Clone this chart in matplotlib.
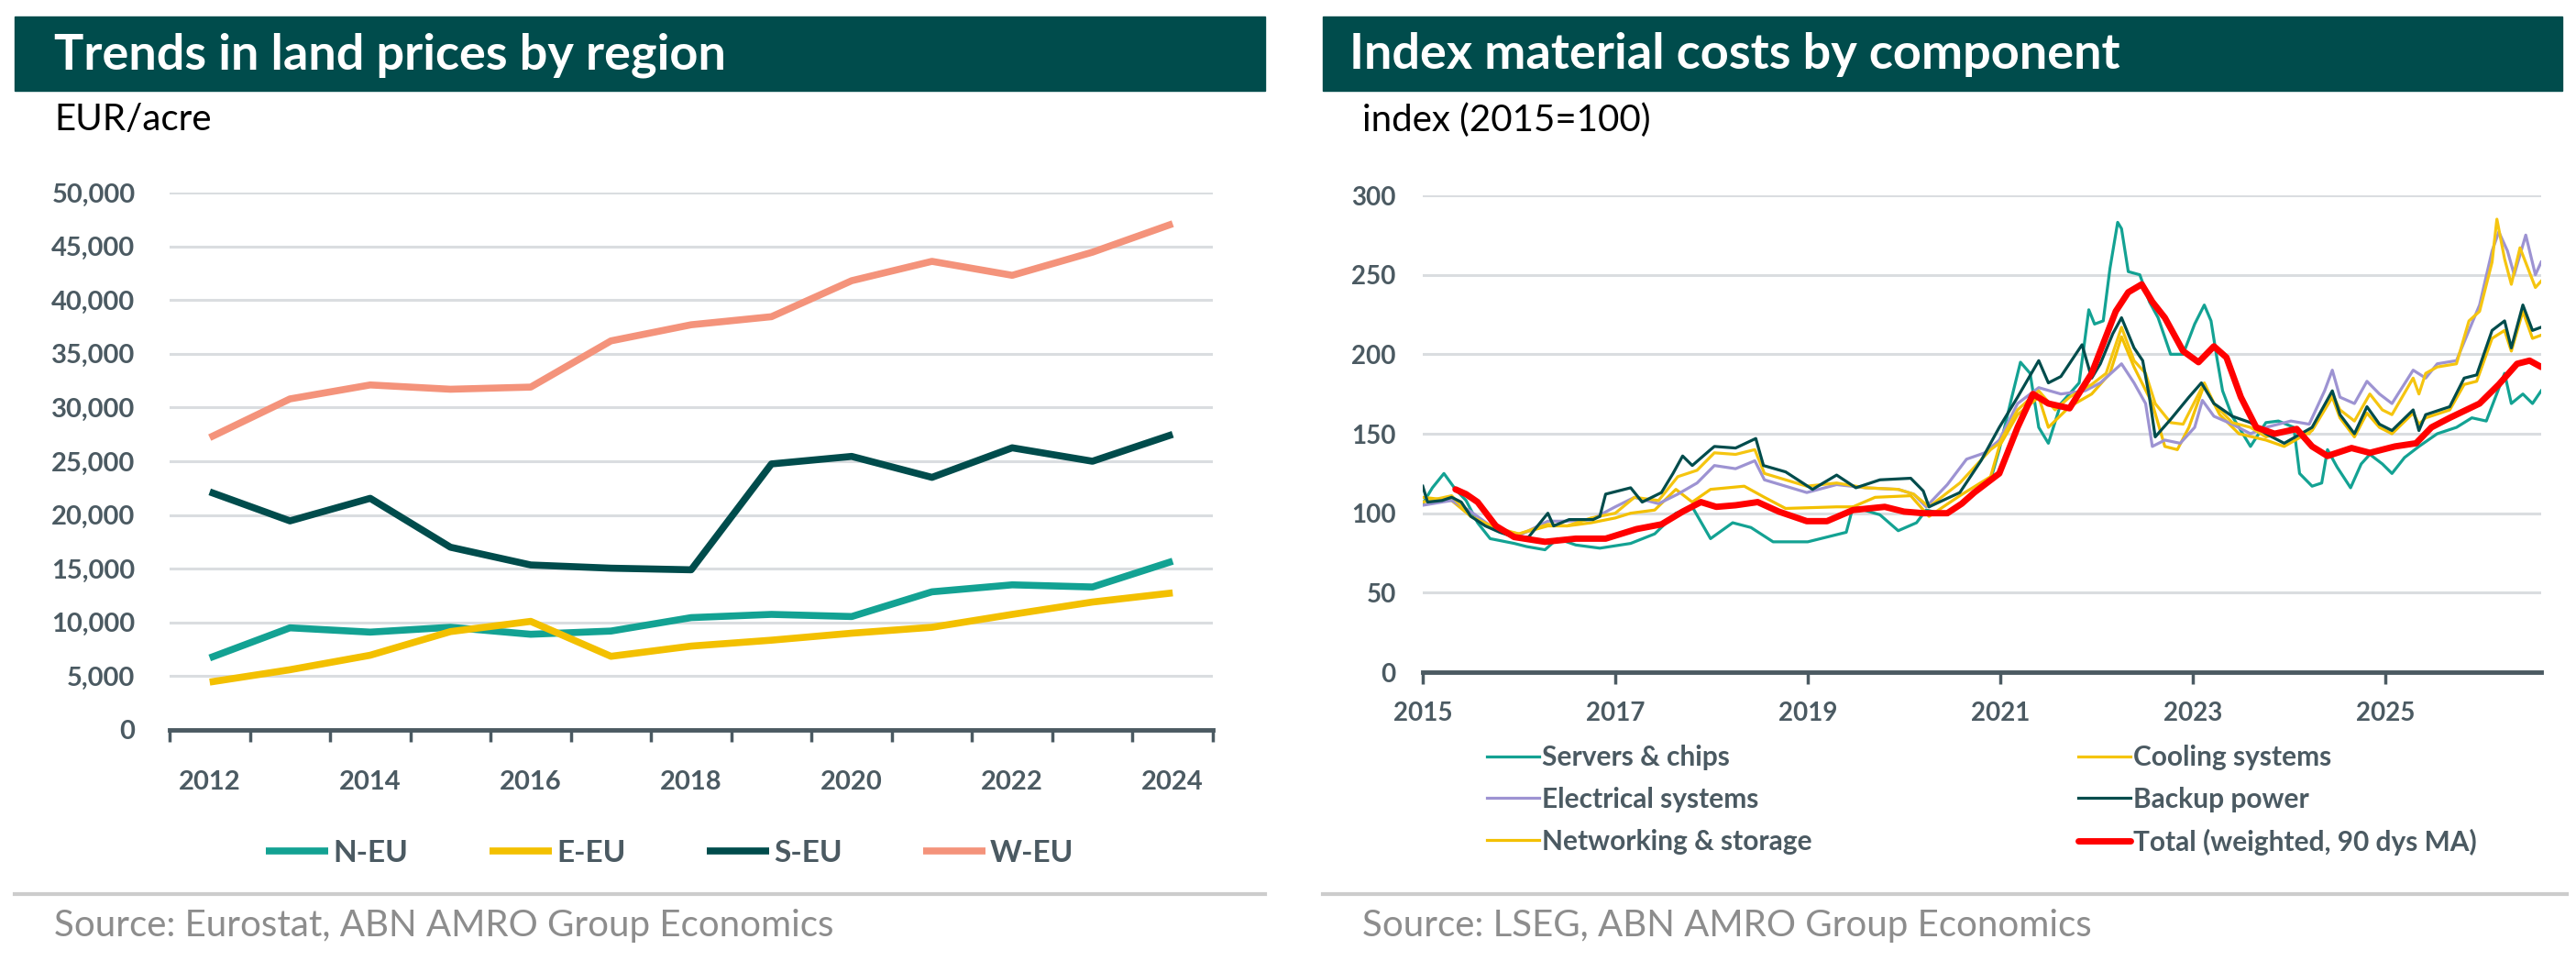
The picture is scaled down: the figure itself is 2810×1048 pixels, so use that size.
import matplotlib
matplotlib.use("Agg")
import matplotlib.pyplot as plt
from matplotlib.patches import Rectangle
from matplotlib.lines import Line2D
from matplotlib.ticker import FuncFormatter, MultipleLocator

plt.rcParams['font.family'] = ['Lato', 'DejaVu Sans']

# ---------------- left chart: land prices (EUR/acre) ----------------
years = [2012, 2013, 2014, 2015, 2016, 2017, 2018, 2019, 2020, 2021, 2022, 2023, 2024]
n_eu = [6700, 9500, 9100, 9550, 8900, 9200, 10450, 10750, 10550, 12850, 13500, 13300, 15700]
e_eu = [4450, 5600, 6950, 9150, 10100, 6850, 7800, 8350, 9000, 9550, 10750, 11900, 12750]
s_eu = [22150, 19450, 21550, 17000, 15350, 15050, 14900, 24750, 25450, 23500, 26250, 25000, 27500]
w_eu = [27200, 30800, 32100, 31700, 31900, 36200, 37700, 38450, 41800, 43600, 42300, 44450, 47100]

# ---------------- right chart: material cost index (2015=100) ----------------
servers_x = [2015.0, 2015.1, 2015.22, 2015.34, 2015.45, 2015.57, 2015.7, 2015.95, 2016.08, 2016.27,
             2016.4, 2016.59, 2016.84, 2017.16, 2017.41, 2017.63, 2017.8, 2017.99, 2018.22, 2018.41,
             2018.64, 2019.0, 2019.4, 2019.47, 2019.75, 2019.94, 2020.13, 2020.23, 2020.45, 2020.73,
             2020.9, 2020.99, 2021.12, 2021.21, 2021.31, 2021.4, 2021.5, 2021.63, 2021.82, 2021.92,
             2021.98, 2022.07, 2022.14, 2022.22, 2022.26, 2022.33, 2022.45, 2022.55, 2022.64, 2022.77,
             2022.9, 2023.02, 2023.12, 2023.19, 2023.25, 2023.31, 2023.41, 2023.6, 2023.76, 2023.89,
             2024.05, 2024.11, 2024.24, 2024.34, 2024.4, 2024.5, 2024.64, 2024.75, 2024.84, 2024.97,
             2025.07, 2025.2, 2025.35, 2025.54, 2025.74, 2025.9, 2026.05, 2026.24, 2026.31, 2026.43,
             2026.53, 2026.62]
servers = [106, 116, 125, 115, 108, 94, 84, 81, 79, 77,
           84, 80, 78, 81, 87, 100, 104, 84, 94, 91,
           82, 82, 88, 104, 99, 89, 94, 102, 99, 113,
           121, 140, 173, 195, 188, 154, 144, 169, 182, 228,
           219, 221, 254, 283, 279, 252, 250, 233, 223, 200,
           200, 219, 231, 221, 198, 177, 161, 142, 157, 158,
           154, 125, 117, 119, 140, 129, 116, 131, 137, 131,
           125, 135, 142, 150, 154, 160, 158, 188, 169, 175,
           169, 177]

electrical_x = [2015.0, 2015.3, 2015.5, 2015.75, 2016.0, 2016.3, 2016.5, 2016.75, 2017.0, 2017.2,
                2017.45, 2017.65, 2017.85, 2018.03, 2018.25, 2018.45, 2018.55, 2018.99, 2019.3, 2019.6,
                2019.94, 2020.1, 2020.23, 2020.45, 2020.65, 2020.84, 2020.99, 2021.18, 2021.4, 2021.63,
                2021.88, 2022.04, 2022.26, 2022.39, 2022.51, 2022.58, 2022.71, 2022.87, 2023.02, 2023.1,
                2023.22, 2023.41, 2023.6, 2023.76, 2024.02, 2024.21, 2024.37, 2024.45, 2024.53, 2024.68,
                2024.81, 2024.94, 2025.07, 2025.29, 2025.42, 2025.54, 2025.74, 2025.87, 2025.98, 2026.11,
                2026.18, 2026.27, 2026.34, 2026.46, 2026.56, 2026.62]
electrical = [105, 108, 101, 90, 86, 95, 95, 96, 104, 110,
              106, 112, 119, 130, 128, 133, 121, 113, 118, 116,
              115, 112, 104, 118, 134, 138, 146, 169, 179, 175,
              177, 182, 194, 182, 169, 142, 146, 144, 154, 171,
              161, 156, 150, 154, 158, 156, 177, 190, 173, 169,
              183, 175, 169, 190, 185, 194, 196, 215, 231, 265,
              277, 265, 250, 275, 250, 258]

cooling_x = [2015.0, 2015.3, 2015.5, 2015.75, 2016.0, 2016.3, 2016.5, 2016.75, 2017.0, 2017.2,
             2017.45, 2017.65, 2017.85, 2018.03, 2018.25, 2018.45, 2018.55, 2018.99, 2019.3, 2019.6,
             2019.94, 2020.1, 2020.26, 2020.58, 2020.9, 2020.99, 2021.18, 2021.4, 2021.57, 2021.72,
             2021.95, 2022.1, 2022.26, 2022.39, 2022.51, 2022.61, 2022.77, 2022.9, 2023.12, 2023.22,
             2023.41, 2023.6, 2023.76, 2024.02, 2024.21, 2024.45, 2024.53, 2024.68, 2024.84, 2024.97,
             2025.07, 2025.29, 2025.35, 2025.42, 2025.54, 2025.74, 2025.87, 2025.98, 2026.11, 2026.16,
             2026.24, 2026.31, 2026.4, 2026.56, 2026.62]
cooling = [107, 111, 98, 91, 87, 93, 92, 97, 100, 110,
           108, 123, 127, 138, 137, 140, 125, 117, 119, 116,
           115, 112, 104, 119, 140, 144, 165, 177, 165, 173,
           181, 188, 217, 196, 188, 169, 157, 156, 182, 169,
           157, 154, 148, 152, 150, 175, 165, 158, 175, 165,
           162, 185, 175, 188, 192, 194, 221, 227, 258, 285,
           260, 244, 267, 242, 246]

backup_x = [2015.0, 2015.05, 2015.2, 2015.3, 2015.4, 2015.5, 2015.65, 2015.8, 2016.0, 2016.1,
            2016.3, 2016.36, 2016.52, 2016.77, 2016.84, 2016.9, 2017.16, 2017.28, 2017.48, 2017.6,
            2017.7, 2017.8, 2017.99, 2018.03, 2018.25, 2018.46, 2018.54, 2018.77, 2019.05, 2019.3,
            2019.5, 2019.75, 2020.07, 2020.2, 2020.26, 2020.58, 2020.8, 2020.99, 2021.18, 2021.4,
            2021.5, 2021.63, 2021.85, 2021.95, 2022.04, 2022.17, 2022.26, 2022.39, 2022.48, 2022.55,
            2022.61, 2022.77, 2022.96, 2023.09, 2023.22, 2023.41, 2023.6, 2023.76, 2023.95, 2024.24,
            2024.45, 2024.53, 2024.68, 2024.81, 2024.94, 2025.07, 2025.29, 2025.35, 2025.42, 2025.67,
            2025.82, 2025.95, 2026.11, 2026.24, 2026.31, 2026.43, 2026.53, 2026.62]
backup = [117, 107, 108, 110, 107, 98, 92, 88, 84, 85,
          100, 92, 96, 96, 98, 112, 116, 107, 113, 125,
          136, 130, 140, 142, 141, 147, 130, 126, 115, 124,
          116, 121, 122, 114, 104, 113, 133, 154, 173, 196,
          182, 186, 206, 185, 194, 213, 223, 204, 196, 173,
          148, 159, 173, 182, 169, 161, 157, 150, 144, 154,
          177, 162, 150, 167, 156, 152, 165, 152, 162, 167,
          185, 187, 215, 221, 204, 231, 215, 217]

networking_x = [2015.0, 2015.3, 2015.5, 2015.75, 2016.0, 2016.3, 2016.5, 2016.75, 2017.0, 2017.16,
                2017.41, 2017.63, 2017.8, 2017.99, 2018.34, 2018.55, 2018.77, 2019.3, 2019.47, 2019.7,
                2020.07, 2020.26, 2020.58, 2020.9, 2020.99, 2021.18, 2021.4, 2021.5, 2021.72, 2021.95,
                2022.14, 2022.26, 2022.39, 2022.58, 2022.71, 2022.84, 2022.96, 2023.12, 2023.28, 2023.48,
                2023.76, 2023.95, 2024.24, 2024.45, 2024.53, 2024.68, 2024.81, 2024.94, 2025.07, 2025.29,
                2025.35, 2025.42, 2025.67, 2025.82, 2025.95, 2026.11, 2026.24, 2026.31, 2026.43, 2026.53,
                2026.62]
networking = [110, 108, 98, 90, 87, 92, 92, 94, 97, 100,
              102, 115, 107, 115, 117, 110, 103, 104, 104, 110,
              111, 98, 111, 123, 142, 162, 173, 154, 167, 175,
              188, 211, 192, 169, 142, 140, 154, 181, 162, 150,
              146, 142, 152, 173, 160, 148, 163, 154, 150, 163,
              156, 160, 165, 181, 183, 210, 215, 202, 227, 210,
              212]

total_x = [2015.34, 2015.45, 2015.57, 2015.76, 2015.95, 2016.27, 2016.59, 2016.9, 2017.22, 2017.48,
           2017.7, 2017.89, 2018.05, 2018.25, 2018.48, 2018.7, 2018.99, 2019.2, 2019.47, 2019.8,
           2020.0, 2020.2, 2020.45, 2020.6, 2020.73, 2020.99, 2021.18, 2021.34, 2021.5, 2021.72,
           2021.95, 2022.2, 2022.33, 2022.47, 2022.58, 2022.71, 2022.9, 2023.06, 2023.22, 2023.35,
           2023.5, 2023.66, 2023.85, 2024.08, 2024.24, 2024.4, 2024.65, 2024.84, 2025.1, 2025.32,
           2025.48, 2025.67, 2025.98, 2026.18, 2026.37, 2026.5, 2026.62]
total = [115, 112, 107, 92, 85, 82, 84, 84, 90, 93,
         101, 107, 104, 105, 107, 101, 95, 95, 102, 104,
         101, 100, 100, 106, 113, 125, 154, 175, 169, 166,
         188, 227, 239, 244, 233, 223, 202, 195, 205, 198,
         173, 154, 150, 153, 142, 136, 141, 138, 142, 144,
         154, 160, 169, 181, 194, 196, 192]

# colours
HEADER = '#004c4c'
TEAL = '#13a293'
YELLOW = '#f3c000'
DARK = '#004c4c'
SALMON = '#f4937b'
LAVENDER = '#9d93d2'
RED = '#ff0000'
TICK = '#4b5a62'
GRID = '#dadde0'
SOURCE = '#8d8d8d'

W, H = 2810, 1048
fig = plt.figure(figsize=(W / 100, H / 100), dpi=100)


def fx(px):
    return px / W


def fy(py):
    return 1 - py / H


# header bars + titles
for x0, x1, title, tx in [(16, 1380, 'Trends in land prices by region', 59),
                          (1443, 2795, 'Index material costs by component', 1472)]:
    fig.patches.append(Rectangle((fx(x0), fy(99)), fx(x1 - x0), (99 - 18) / H,
                                 transform=fig.transFigure, color=HEADER, zorder=0))
    fig.text(fx(tx), fy(60), title, color='white', fontsize=39, fontweight='bold',
             va='center', ha='left')

fig.text(fx(59), fy(131), 'EUR/acre', fontsize=29, color='black', va='center')
fig.text(fx(1486), fy(131), 'index (2015=100)', fontsize=29, color='black', va='center')

# source lines
for x0, x1, src, tx in [(16, 1380, 'Source: Eurostat, ABN AMRO Group Economics', 59),
                        (1443, 2800, 'Source: LSEG, ABN AMRO Group Economics', 1486)]:
    fig.add_artist(Line2D([fx(x0), fx(x1)], [fy(975), fy(975)], color='#cccccc', lw=3,
                          transform=fig.transFigure))
    fig.text(fx(tx), fy(1010), src, fontsize=29, color=SOURCE, va='center')


def style_axis(ax):
    for s in ['top', 'right', 'left']:
        ax.spines[s].set_visible(False)
    ax.spines['bottom'].set_color(TICK)
    ax.spines['bottom'].set_linewidth(3.5)
    ax.spines['bottom'].set_zorder(5)
    ax.yaxis.grid(True, color=GRID, lw=2.2)
    ax.set_axisbelow(True)
    ax.tick_params(axis='y', length=0, labelsize=21, labelcolor=TICK)


# ---------------- left chart ----------------
ax1 = fig.add_axes([fx(185), fy(796), fx(1323 - 185), (796 - 210) / H])
for vals, col, lab in [(n_eu, TEAL, 'N-EU'), (e_eu, YELLOW, 'E-EU'),
                       (s_eu, DARK, 'S-EU'), (w_eu, SALMON, 'W-EU')]:
    ax1.plot(years, vals, color=col, lw=5.5, label=lab, solid_capstyle='butt')
ax1.set_xlim(2011.5, 2024.5)
ax1.set_ylim(0, 50000)
ax1.yaxis.set_major_locator(MultipleLocator(5000))
ax1.yaxis.set_major_formatter(FuncFormatter(lambda v, p: f'{int(v):,}'))
ax1.set_xticks(years[::2])
ax1.set_xticks([y - 0.5 for y in years] + [years[-1] + 0.5], minor=True)
ax1.tick_params(axis='x', which='major', length=0, pad=32, labelsize=21, labelcolor=TICK)
ax1.tick_params(axis='x', which='minor', length=9, width=2.5, color=TICK, direction='out')
style_axis(ax1)
ax1.tick_params(axis='y', pad=27)
for lab in ax1.get_xticklabels() + ax1.get_yticklabels():
    lab.set_fontweight('bold')

h1, l1 = ax1.get_legend_handles_labels()
fig.legend(h1, l1, loc='center left', bbox_to_anchor=(fx(290), fy(930)), ncol=4, frameon=False,
           prop={'size': 24, 'weight': 'bold'}, labelcolor=TICK, handlelength=2.05,
           handletextpad=0.15, columnspacing=2.65, borderaxespad=0, borderpad=0)

# ---------------- right chart ----------------
ax2 = fig.add_axes([fx(1552), fy(733), fx(2772 - 1552), (733 - 213) / H])
l_srv, = ax2.plot(servers_x, servers, color=TEAL, lw=2.3, label='Servers & chips')
l_net, = ax2.plot(networking_x, networking, color=YELLOW, lw=2.3, label='Networking & storage')
l_ele, = ax2.plot(electrical_x, electrical, color=LAVENDER, lw=2.3, label='Electrical systems')
l_col, = ax2.plot(cooling_x, cooling, color='#f5c510', lw=2.3, label='Cooling systems')
l_bak, = ax2.plot(backup_x, backup, color=DARK, lw=2.3, label='Backup power')
l_tot, = ax2.plot(total_x, total, color=RED, lw=5, label='Total (weighted, 90 dys MA)',
                  solid_joinstyle='round', solid_capstyle='round')
ax2.set_xlim(2015, 2026.62)
ax2.set_ylim(0, 300)
ax2.yaxis.set_major_locator(MultipleLocator(50))
ax2.set_xticks([2015, 2017, 2019, 2021, 2023, 2025])
ax2.tick_params(axis='x', length=9, width=2.5, color=TICK, pad=14, labelsize=20, labelcolor=TICK)
style_axis(ax2)
ax2.tick_params(axis='y', pad=21, labelsize=20)
for lab in ax2.get_xticklabels() + ax2.get_yticklabels():
    lab.set_fontweight('bold')

leg_kw = dict(frameon=False, prop={'size': 21.5, 'weight': 'bold'}, labelcolor=TICK,
              handlelength=1.9, handletextpad=0.12, labelspacing=0.6, borderaxespad=0,
              borderpad=0, loc='upper left')
fig.legend([l_srv, l_ele, l_net], [l.get_label() for l in (l_srv, l_ele, l_net)],
           bbox_to_anchor=(fx(1622), fy(812)), **leg_kw)
fig.legend([l_col, l_bak, l_tot], [l.get_label() for l in (l_col, l_bak, l_tot)],
           bbox_to_anchor=(fx(2267), fy(812)), **leg_kw)

fig.savefig('out.png', dpi=100)
